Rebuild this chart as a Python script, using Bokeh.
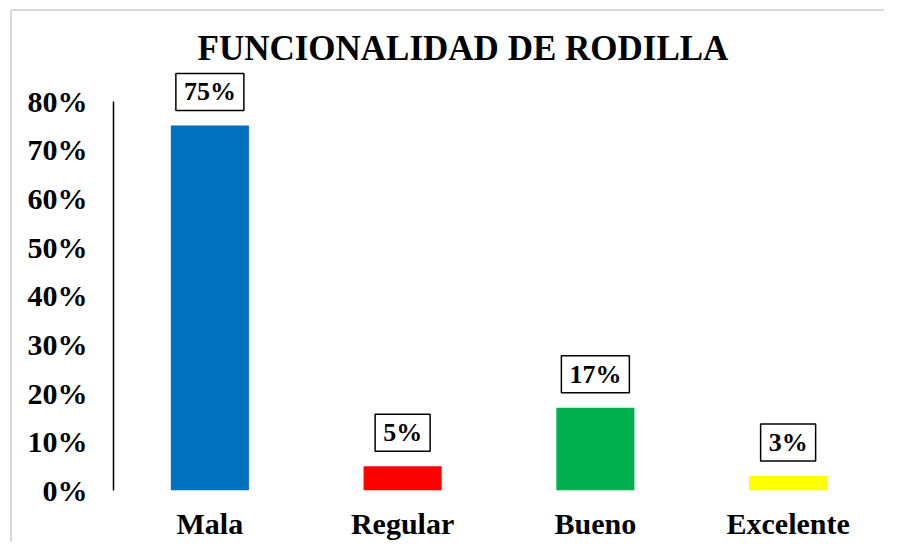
from bokeh.plotting import figure
from bokeh.models import Range1d, FixedTicker, Label, Title
from bokeh.embed import file_html
from bokeh.resources import INLINE

categories = ["Mala", "Regular", "Bueno", "Excelente"]
values = [0.75, 0.05, 0.17, 0.03]
value_labels = ["75%", "5%", "17%", "3%"]
colors = ["#0070C0", "#FF0000", "#00B050", "#FFFF00"]
y_ticks = [0.0, 0.1, 0.2, 0.3, 0.4, 0.5, 0.6, 0.7, 0.8]
y_tick_labels = ["0%", "10%", "20%", "30%", "40%", "50%", "60%", "70%", "80%"]

FONT = "Liberation Serif"

p = figure(width=884, height=542, output_backend="svg", toolbar_location=None,
           x_range=Range1d(-0.5, len(categories) - 0.5),
           y_range=Range1d(0, 0.867),
           min_border_left=113, min_border_right=0, min_border_bottom=48, min_border_top=68)

# light chart-area border (top and left edges) painted behind a transparent canvas
p.border_fill_color = None
p.background_fill_color = None
p.styles = {
    "background": ("linear-gradient(#d9d9d9, #d9d9d9) 10px 9px / 100% 2px no-repeat, "
                   "linear-gradient(#d9d9d9, #d9d9d9) 10px 9px / 2px 100% no-repeat, white"),
}

p.title = Title(text="FUNCIONALIDAD DE RODILLA", align="left", offset=84,
                text_font=FONT, text_font_size="35px", text_font_style="bold",
                text_color="black", standoff=2)

xs = list(range(len(categories)))
p.vbar(x=xs, top=values, width=0.405, color=colors, line_color=None)

for x, v, t in zip(xs, values, value_labels):
    p.add_layout(Label(x=x, y=v, text=t, y_offset=15, text_align="center",
                       text_baseline="bottom", text_font=FONT, text_font_size="26px",
                       text_font_style="bold", text_color="black",
                       border_line_color="black", border_line_width=1.5,
                       background_fill_color="white", padding=(8, 4)))

p.xgrid.visible = False
p.ygrid.visible = False
p.outline_line_color = None

p.xaxis.ticker = FixedTicker(ticks=xs)
p.xaxis.major_label_overrides = {i: c for i, c in enumerate(categories)}
p.xaxis.axis_line_color = None
p.xaxis.major_tick_line_color = None
p.xaxis.minor_tick_line_color = None
p.xaxis.major_label_standoff = 10
p.xaxis.major_label_text_font = FONT
p.xaxis.major_label_text_font_size = "30px"
p.xaxis.major_label_text_font_style = "bold"
p.xaxis.major_label_text_color = "black"

p.yaxis.ticker = FixedTicker(ticks=y_ticks)
p.yaxis.major_label_overrides = {t: l for t, l in zip(y_ticks, y_tick_labels)}
p.yaxis.bounds = (0, 0.8)
p.yaxis.axis_line_color = "black"
p.yaxis.axis_line_width = 1.5
p.yaxis.major_tick_line_color = None
p.yaxis.minor_tick_line_color = None
p.yaxis.major_label_standoff = 20
p.yaxis.major_label_text_font = FONT
p.yaxis.major_label_text_font_size = "30px"
p.yaxis.major_label_text_font_style = "bold"
p.yaxis.major_label_text_color = "black"

open("out.html", "w").write(file_html(p, INLINE))
